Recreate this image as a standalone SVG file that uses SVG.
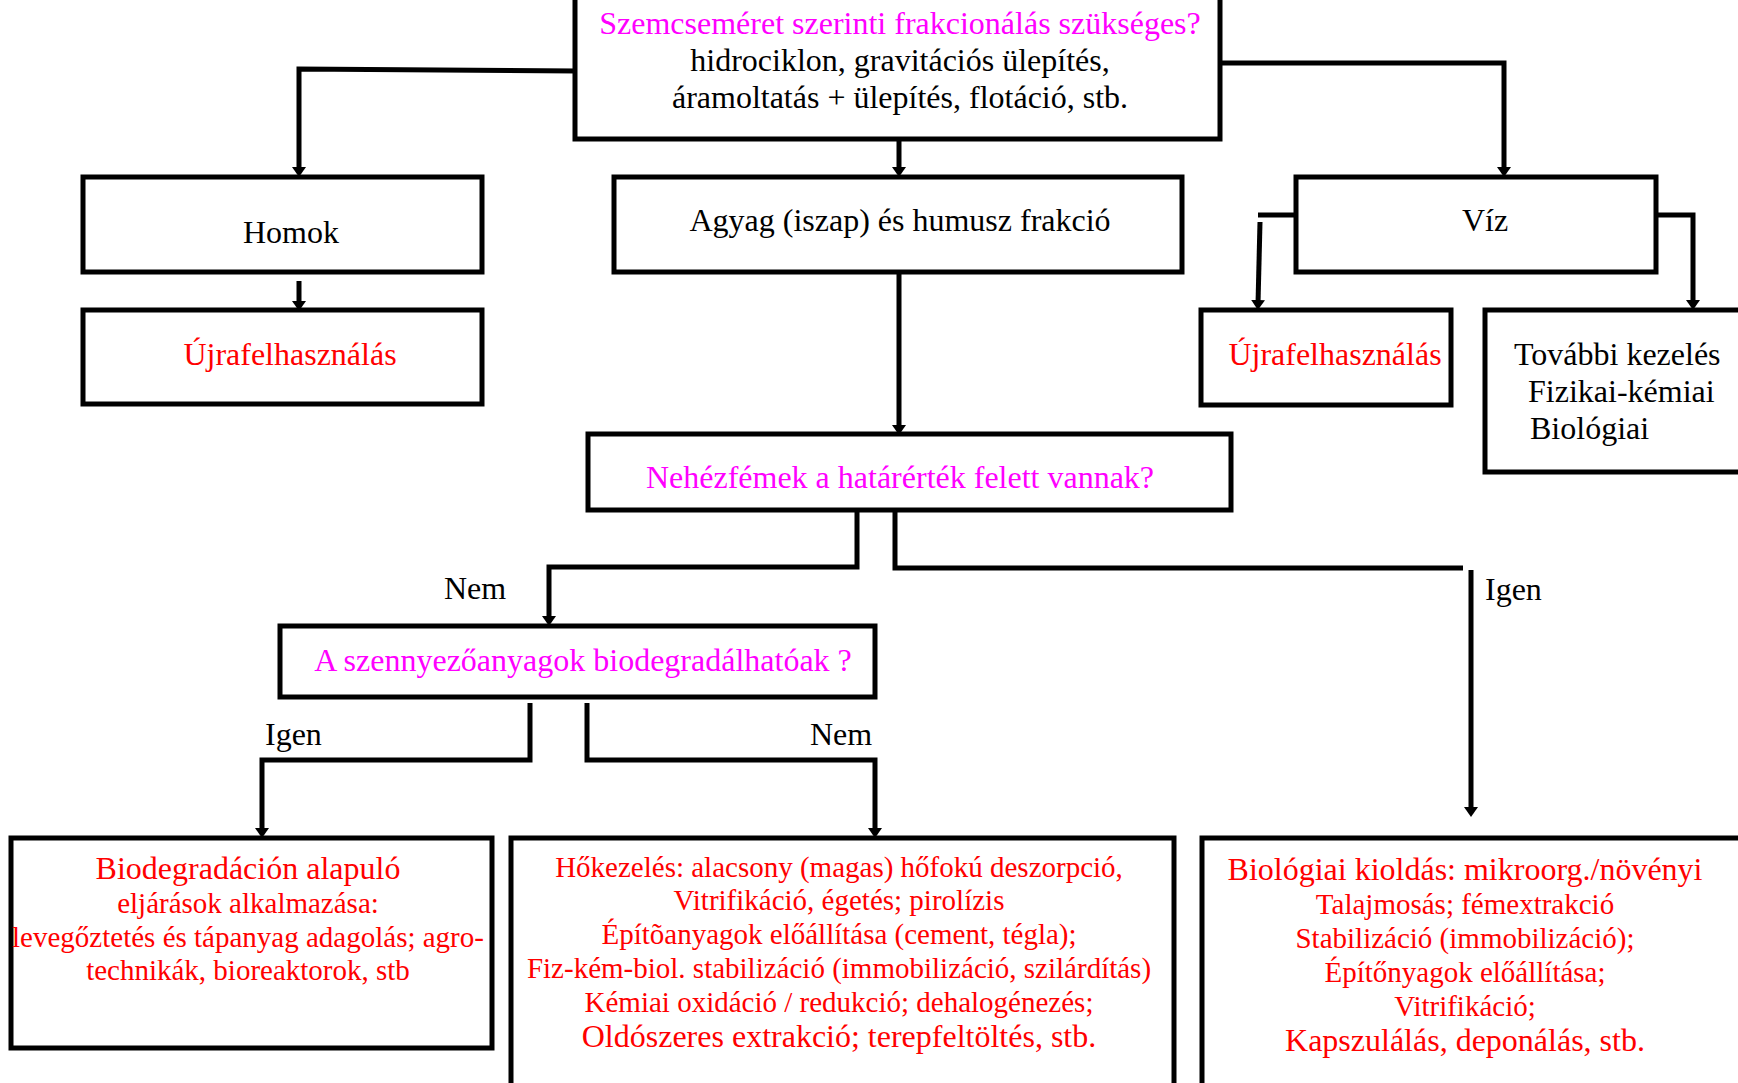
<svg xmlns="http://www.w3.org/2000/svg" width="1738" height="1083" viewBox="0 0 1738 1083">
<style>
.box{fill:#fff;stroke:#000;stroke-width:5}
.t{font-family:"Liberation Serif","Times New Roman",serif;font-size:32px;text-anchor:middle;fill:#000}
.l{text-anchor:start}
.s{font-size:29px}
.mag{fill:#FF00FF}
.red{fill:#FF0000}
.conn{fill:none;stroke:#000;stroke-width:5}
</style>
<defs>
<marker id="ah" markerUnits="userSpaceOnUse" markerWidth="10" markerHeight="14" viewBox="0 0 10 14" refX="4" refY="7" orient="auto">
<path d="M0,0 L10,7 L0,14 z" fill="#000"/>
</marker>
</defs>
<rect x="0" y="0" width="1738" height="1083" fill="#fff"/>

<g id="n-top">
<rect class="box" x="575" y="-10" width="645" height="149"/>
<text class="t mag" x="900" y="34">Szemcseméret szerinti frakcionálás szükséges?</text>
<text class="t" x="900" y="71">hidrociklon, gravitációs ülepítés,</text>
<text class="t" x="900" y="108">áramoltatás + ülepítés, flotáció, stb.</text>
</g>
<g id="n-homok">
<rect class="box" x="83" y="177" width="399" height="95"/>
<text class="t" x="291" y="243">Homok</text>
</g>
<g id="n-ujra-left">
<rect class="box" x="83" y="310" width="399" height="94"/>
<text class="t red" x="290" y="365">Újrafelhasználás</text>
</g>
<g id="n-agyag">
<rect class="box" x="614" y="177" width="568" height="95"/>
<text class="t" x="900" y="231">Agyag (iszap) és humusz frakció</text>
</g>
<g id="n-viz">
<rect class="box" x="1296" y="177" width="360" height="95"/>
<text class="t" x="1485" y="231">Víz</text>
</g>
<g id="n-ujra-right">
<rect class="box" x="1201" y="310" width="250" height="95"/>
<text class="t red" x="1335" y="365">Újrafelhasználás</text>
</g>
<g id="n-tovabbi">
<rect class="box" x="1485" y="310" width="265" height="162"/>
<text class="t l" x="1514" y="365">További kezelés</text>
<text class="t l" x="1528" y="402">Fizikai-kémiai</text>
<text class="t l" x="1530" y="439">Biológiai</text>
</g>
<g id="n-nehezfem">
<rect class="box" x="588" y="434" width="643" height="76"/>
<text class="t mag" x="900" y="488">Nehézfémek a határérték felett vannak?</text>
</g>
<g id="n-biodeg-q">
<rect class="box" x="280" y="626" width="595" height="71"/>
<text class="t mag" x="583" y="671">A szennyezőanyagok biodegradálhatóak ?</text>
</g>
<g id="n-biodeg">
<rect class="box" x="11" y="838" width="481" height="210"/>
<text class="t red" x="248" y="879">Biodegradáción alapuló</text>
<text class="t s red" x="248" y="913">eljárások alkalmazása:</text>
<text class="t s red" x="248" y="947">levegőztetés és tápanyag adagolás; agro-</text>
<text class="t s red" x="248" y="980">technikák, bioreaktorok, stb</text>
</g>
<g id="n-hokezeles">
<rect class="box" x="511" y="838" width="663" height="260"/>
<text class="t s red" x="839" y="877">Hőkezelés: alacsony (magas) hőfokú deszorpció,</text>
<text class="t s red" x="839" y="910">Vitrifikáció, égetés; pirolízis</text>
<text class="t s red" x="839" y="944">Építõanyagok előállítása (cement, tégla);</text>
<text class="t s red" x="839" y="978">Fiz-kém-biol. stabilizáció (immobilizáció, szilárdítás)</text>
<text class="t s red" x="839" y="1012">Kémiai oxidáció / redukció; dehalogénezés;</text>
<text class="t red" x="839" y="1047">Oldószeres extrakció; terepfeltöltés, stb.</text>
</g>
<g id="n-biologiai">
<rect class="box" x="1202" y="838" width="560" height="260"/>
<text class="t red" x="1465" y="880">Biológiai kioldás: mikroorg./növényi</text>
<text class="t s red" x="1465" y="914">Talajmosás; fémextrakció</text>
<text class="t s red" x="1465" y="948">Stabilizáció (immobilizáció);</text>
<text class="t s red" x="1465" y="982">Építőnyagok előállítása;</text>
<text class="t s red" x="1465" y="1016">Vitrifikáció;</text>
<text class="t red" x="1465" y="1051">Kapszulálás, deponálás, stb.</text>
</g>

<g id="connectors">
<path class="conn" d="M577,71 L299,69 L299,171" marker-end="url(#ah)"/>
<path class="conn" d="M899,139 L899,171" marker-end="url(#ah)"/>
<path class="conn" d="M1220,63 L1504,63 L1504,171" marker-end="url(#ah)"/>
<path class="conn" d="M299,281 L299,305" marker-end="url(#ah)"/>
<path class="conn" d="M1296,215 L1258,215"/>
<path class="conn" d="M1260,222 L1258,304" marker-end="url(#ah)"/>
<path class="conn" d="M1656,215 L1693,215 L1693,304" marker-end="url(#ah)"/>
<path class="conn" d="M899,272 L899,429" marker-end="url(#ah)"/>
<path class="conn" d="M857,510 L857,567 L549,567 L549,620" marker-end="url(#ah)"/>
<path class="conn" d="M895,510 L895,568 L1463,568"/>
<path class="conn" d="M1471,570 L1471,811" marker-end="url(#ah)"/>
<path class="conn" d="M530,703 L530,760 L262,760 L262,832" marker-end="url(#ah)"/>
<path class="conn" d="M587,703 L587,760 L875,760 L875,832" marker-end="url(#ah)"/>
<text class="t l" x="444" y="599">Nem</text>
<text class="t l" x="1485" y="600">Igen</text>
<text class="t l" x="265" y="745">Igen</text>
<text class="t l" x="810" y="745">Nem</text>
</g>
</svg>
